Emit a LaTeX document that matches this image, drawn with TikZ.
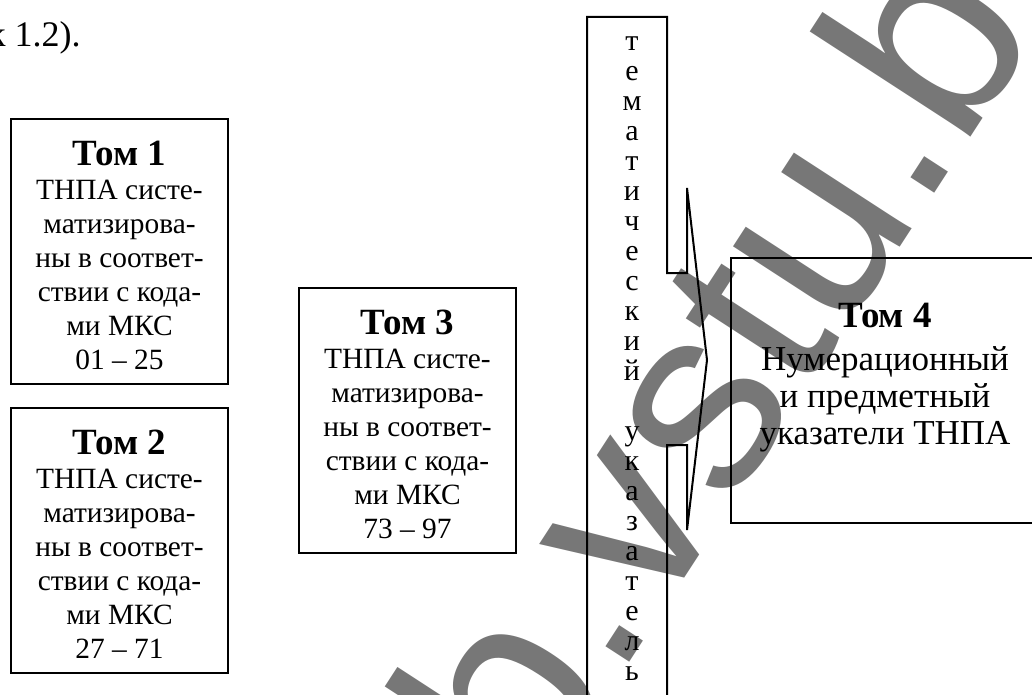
\documentclass[tikz,border=0pt]{standalone}
\usepackage{fontspec}
\setmainfont{Liberation Serif}
\newfontfamily\wmfont{Liberation Sans}
\usetikzlibrary{positioning}
\definecolor{wmgray}{RGB}{119,119,119}
\newcommand{\volhead}[1]{{\fontsize{18.5}{17}\selectfont\bfseries #1}}

\begin{document}
\begin{tikzpicture}[x=0.5pt,y=-0.5pt,
	volbox/.style={draw, line width=1pt, minimum width=108.5pt, minimum height=132.5pt, anchor=north west, inner sep=0pt},
	voltext/.style={align=center, inner sep=0pt, font=\fontsize{14.7}{17}\selectfont},
	frame/.style={line width=1pt}]
	\path[use as bounding box, clip] (0,0) rectangle (1032,695);
	\node[anchor=base west, rotate=57, text=wmgray, inner sep=0pt, font=\wmfont\fontsize{132.5}{140}\selectfont] (wm) at (392,1029) {elib.vstu.by};
	\node[anchor=base east, inner sep=0pt, font=\fontsize{18}{20}\selectfont] (ref) at (81,47) {к 1.2).};
	\node[volbox] (tom1) at (10,118) {};
	\node[voltext, below=11.2pt of tom1.north] (tom1text) {\volhead{Том 1}\\ТНПА систе-\\матизирова-\\ны в соответ-\\ствии с кода-\\ми МКС\\01 -- 25};
	\node[volbox] (tom2) at (10,407) {};
	\node[voltext, below=11.2pt of tom2.north] (tom2text) {\volhead{Том 2}\\ТНПА систе-\\матизирова-\\ны в соответ-\\ствии с кода-\\ми МКС\\27 -- 71};
	\node[volbox] (tom3) at (298,287) {};
	\node[voltext, below=11.2pt of tom3.north] (tom3text) {\volhead{Том 3}\\ТНПА систе-\\матизирова-\\ны в соответ-\\ствии с кода-\\ми МКС\\73 -- 97};
	\draw[frame] (587,720) -- (587,17) -- (667,17) -- (667,273) -- (687,273) -- (687,188) -- (707,360) -- (687,530) -- (687,445) -- (667,445) -- (667,720);
	\node[voltext, font=\fontsize{15}{15}\selectfont, anchor=north] (tema) at (632,36) {т\\е\\м\\а\\т\\и\\ч\\е\\с\\к\\и\\й\\[15pt]у\\к\\а\\з\\а\\т\\е\\л\\ь};
	\node[volbox, minimum width=154pt] (tom4) at (730,257) {};
	\node[voltext, font=\fontsize{17.5}{18.5}\selectfont, below=22.7pt of tom4.north] (tom4text) {\volhead{Том 4}\\[3pt]Нумерационный\\и предметный\\указатели ТНПА};
\end{tikzpicture}
\end{document}
